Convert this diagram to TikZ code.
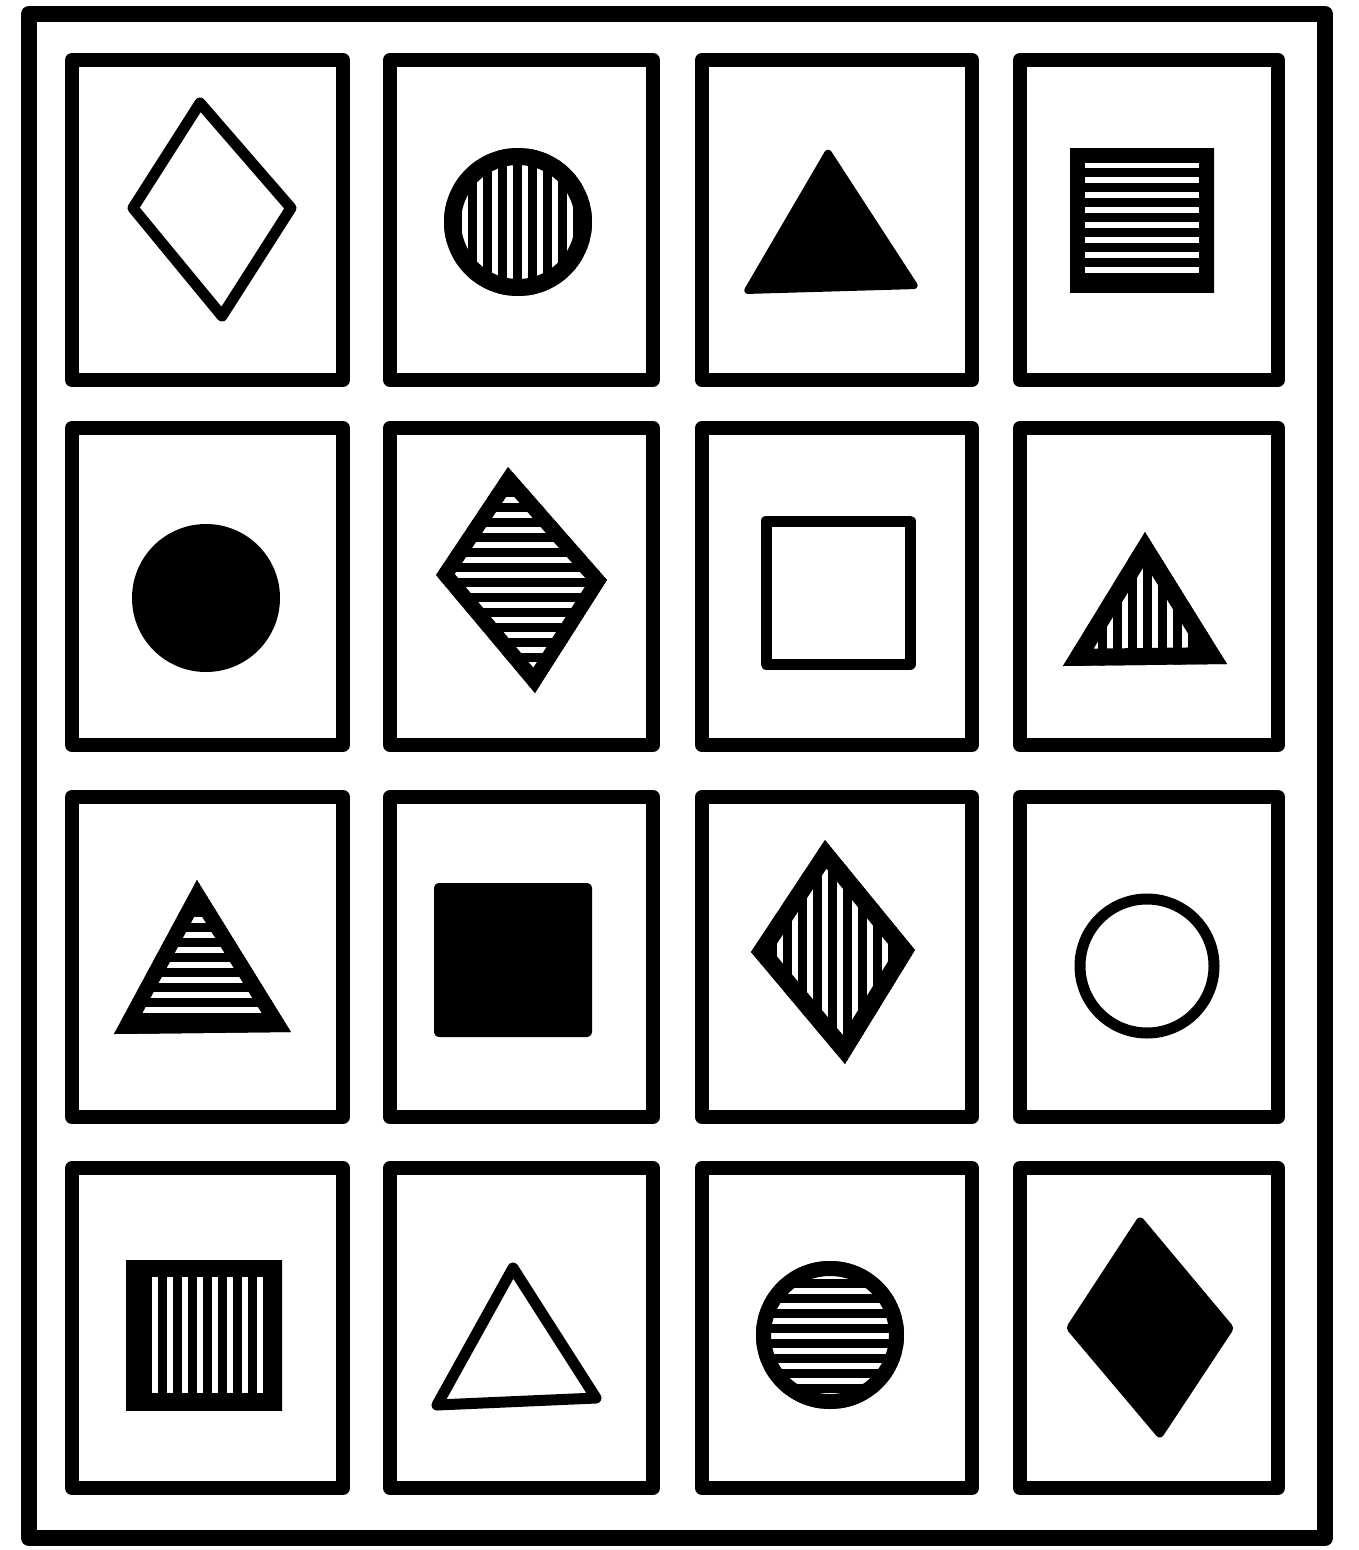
\documentclass[tikz,border=0pt]{standalone}
\tikzset{
  framebox/.style={draw, line width=16pt, line join=round},
  cellbox/.style={draw, line width=14pt, line join=round},
  openshape/.style={draw, line width=11pt, line join=round},
  solidshape/.style={fill=black, draw, line width=4pt, line join=round, rounded corners=3pt},
  stripe/.style={draw=white, line width=6pt},
}
\newcommand\myvhatch[3]{% path, xmin, ymin..ymax
  \begin{scope}
    \clip #1;
    \fill[black] #1;
    \foreach \i in {0,...,14} {\draw[stripe] (#2+\i*15, #3-150) -- (#2+\i*15, #3+150);}
    \draw[line width=34pt, line join=round] #1;
  \end{scope}}
\newcommand\myhhatch[3]{% path, xmid, ymin
  \begin{scope}
    \clip #1;
    \fill[black] #1;
    \foreach \i in {0,...,14} {\draw[stripe] (#2-150, #3+\i*15) -- (#2+150, #3+\i*15);}
    \draw[line width=30pt, line join=round] #1;
  \end{scope}}
\begin{document}
\begin{tikzpicture}[x=1pt,y=-1pt]
\useasboundingbox (0,0) rectangle (1359,1550);
\draw[framebox] (29,14) rectangle (1325,1538);
% cells
\foreach \xa/\xb in {72/343, 390/653, 702/972, 1020/1278}{
  \foreach \ya/\yb in {60/380, 428/745, 797/1117, 1168/1488}{
    \draw[cellbox] (\xa,\ya) rectangle (\xb,\yb);
  }
}
% row 1
\draw[openshape] (200,103) -- (291,208) -- (222,316) -- (133,208) -- cycle;
\myvhatch{(518,222) circle (74)}{450}{222}
\fill[solidshape] (828,150) -- (917,287) -- (745,292) -- cycle;
\myhhatch{(1070,148) rectangle (1214,292)}{1142}{165}
% row 2
\fill (206,598) circle (74);
\myhhatch{(508,467) -- (607,580) -- (535,693) -- (436,575) -- cycle}{520}{470}
\draw[openshape] (766,521) rectangle (910,664);
\myvhatch{(1145,532) -- (1227,664) -- (1063,666) -- cycle}{1080}{600}
% row 3
\myhhatch{(197,880) -- (291,1032) -- (114,1034) -- cycle}{200}{890}
\fill[solidshape] (436,885) rectangle (590,1035);
\myvhatch{(825,840) -- (915,950) -- (845,1064) -- (751,952) -- cycle}{765}{950}
\draw[openshape] (1147,966) circle (67);
% row 4
\myvhatch{(126,1260) rectangle (282,1410)}{140}{1335}
\draw[openshape] (513,1268) -- (596,1398) -- (437,1405) -- cycle;
\myhhatch{(830,1335) circle (74)}{830}{1276}
\fill[solidshape] (1140,1218) -- (1232,1328) -- (1160,1437) -- (1068,1328) -- cycle;
\end{tikzpicture}
\end{document}
